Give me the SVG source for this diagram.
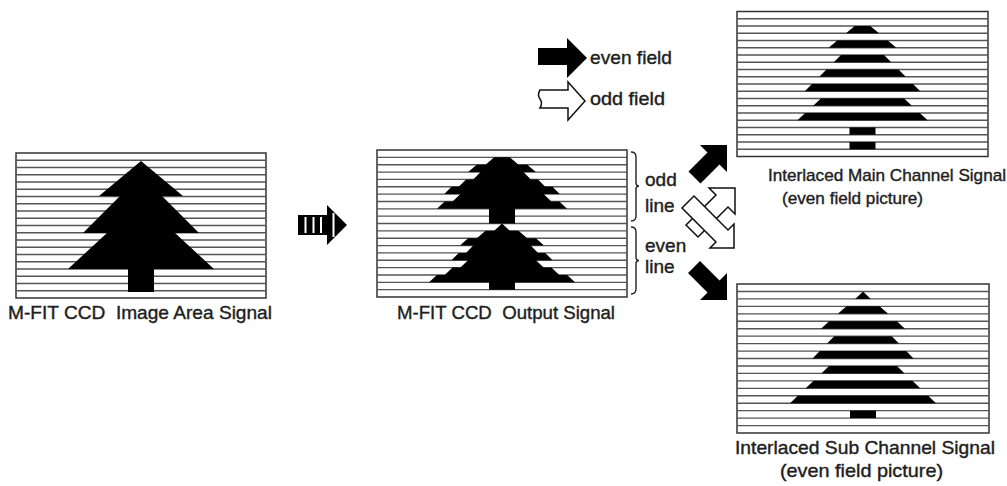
<svg xmlns="http://www.w3.org/2000/svg" width="1007" height="486" viewBox="0 0 1007 486">
  <defs>
    <style>
      .frame { fill: #ffffff; stroke: #333333; stroke-width: 1.5; }
      .scan { fill: none; stroke: #555555; stroke-width: 1.35; }
      .solid { fill: #000000; stroke: none; }
      .hollow { fill: #ffffff; stroke: #111111; stroke-width: 1.5; stroke-linejoin: miter; }
      .label { font-family: "Liberation Sans", Arial, Helvetica, sans-serif; font-size: 19px; fill: #1e1e1e; stroke: #1e1e1e; stroke-width: 0.4; white-space: pre; }
      .small { font-size: 17px; }
    </style>
  </defs>

  <!-- image area signal: full frame with the tree -->
  <g id="image-area">
    <rect class="frame" x="16" y="153" width="250" height="145"/>
    <path class="scan" d="M16 160.25H266M16 167.5H266M16 174.75H266M16 182H266M16 189.25H266M16 196.5H266M16 203.75H266M16 211H266M16 218.25H266M16 225.5H266M16 232.75H266M16 240H266M16 247.25H266M16 254.5H266M16 261.75H266M16 269H266M16 276.25H266M16 283.5H266M16 290.75H266"/>
    <polygon class="solid" points="141,161 183,196 162,196 199,233 175,233 214,269 154,269 154,292 128,292 128,269 68,269 107,233 83,233 120,196 99,196"/>
    <text class="label" x="8" y="319" textLength="264" lengthAdjust="spacingAndGlyphs" xml:space="preserve">M-FIT CCD  Image Area Signal</text>
  </g>

  <!-- output signal: odd lines packed above, even lines packed below -->
  <g id="output-signal">
    <rect class="frame" x="377" y="150" width="250" height="147"/>
    <path class="scan" d="M377 157.35H627M377 164.7H627M377 172.05H627M377 179.4H627M377 186.75H627M377 194.1H627M377 201.45H627M377 208.8H627M377 216.15H627M377 223.5H627M377 230.85H627M377 238.2H627M377 245.55H627M377 252.9H627M377 260.25H627M377 267.6H627M377 274.95H627M377 282.3H627M377 289.65H627"/>
    <polygon class="solid" points="494.2,157.35 509.8,157.35 518.5,164.7 527.2,164.7 535.9,172.05 523.5,172.05 530.75,179.4 538,179.4 545.25,186.75 552.5,186.75 559.75,194.1 543.6,194.1 551.4,201.45 559.3,201.45 567.1,208.8 515,208.8 515,223.5 489,223.5 489,208.8 436.9,208.8 444.7,201.45 452.6,201.45 460.4,194.1 444.25,194.1 451.5,186.75 458.75,186.75 466,179.4 473.25,179.4 480.5,172.05 468.1,172.05 476.8,164.7 485.5,164.7"/>
    <polygon class="solid" points="502,223.5 509.8,230.85 518.5,230.85 527.2,238.2 535.9,238.2 544,245.55 530.75,245.55 538,252.9 545.25,252.9 552.5,260.25 536,260.25 543.6,267.6 551.4,267.6 559.3,274.95 567.1,274.95 575,282.3 515,282.3 515,289.65 489,289.65 489,282.3 429,282.3 436.9,274.95 444.7,274.95 452.6,267.6 460.4,267.6 468,260.25 451.5,260.25 458.75,252.9 466,252.9 473.25,245.55 460,245.55 468.1,238.2 476.8,238.2 485.5,230.85 494.2,230.85"/>
    <text class="label" x="397" y="319" textLength="218" lengthAdjust="spacingAndGlyphs" xml:space="preserve">M-FIT CCD  Output Signal</text>
  </g>

  <!-- brackets marking the two halves of the output frame -->
  <g id="line-brackets">
    <path fill="none" stroke="#222" stroke-width="1.4" d="M631 152Q636 152 636 157L636 183Q636 186 639 186Q636 186 636 189L636 216Q636 221 631 221"/>
    <path fill="none" stroke="#222" stroke-width="1.4" d="M631 227Q636 227 636 232L636 257Q636 260.5 639 260.5Q636 260.5 636 264L636 289Q636 294 631 294"/>
    <text class="label" x="645" y="186">odd</text>
    <text class="label" x="645" y="212">line</text>
    <text class="label" x="645" y="252">even</text>
    <text class="label" x="645" y="273">line</text>
  </g>

  <!-- legend -->
  <g id="legend">
    <polygon class="solid" points="538,48 567,48 567,38 587,58 567,78 567,65 538,65"/>
    <text class="label" x="590" y="64" textLength="82" lengthAdjust="spacingAndGlyphs">even field</text>
    <path class="hollow" d="M540 90L568 90L568 82L585 101L568 120L568 108L540 108Q543 103 540 99Q537 95 540 90Z"/>
    <text class="label" x="590" y="105" textLength="75" lengthAdjust="spacingAndGlyphs">odd field</text>
  </g>

  <!-- main channel: even field picture -->
  <g id="main-channel">
    <rect class="frame" x="737" y="11.5" width="251" height="145"/>
    <path class="scan" d="M737 18.75H988M737 26H988M737 33.25H988M737 40.5H988M737 47.75H988M737 55H988M737 62.25H988M737 69.5H988M737 76.75H988M737 84H988M737 91.25H988M737 98.5H988M737 105.75H988M737 113H988M737 120.25H988M737 127.5H988M737 134.75H988M737 142H988M737 149.25H988"/>
    <polygon class="solid" points="854.7,26 870.3,26 879,33.25 846,33.25"/>
    <polygon class="solid" points="837.3,40.5 887.7,40.5 896.4,47.75 828.6,47.75"/>
    <polygon class="solid" points="841,55 884,55 891.25,62.25 833.75,62.25"/>
    <polygon class="solid" points="826.5,69.5 898.5,69.5 905.75,76.75 819.25,76.75"/>
    <polygon class="solid" points="812,84 913,84 920.25,91.25 804.75,91.25"/>
    <polygon class="solid" points="820.9,98.5 904.1,98.5 911.9,105.75 813.1,105.75"/>
    <polygon class="solid" points="805.2,113 919.8,113 927.6,120.25 797.4,120.25"/>
    <rect class="solid" x="849.5" y="127.5" width="26" height="7.25"/>
    <rect class="solid" x="849.5" y="142" width="26" height="7.25"/>
    <text class="label small" x="768" y="181" textLength="238" lengthAdjust="spacingAndGlyphs">Interlaced Main Channel Signal</text>
    <text class="label small" x="782" y="204" textLength="141" lengthAdjust="spacingAndGlyphs">(even field picture)</text>
  </g>

  <!-- sub channel: even field picture -->
  <g id="sub-channel">
    <rect class="frame" x="737" y="284" width="252" height="149"/>
    <path class="scan" d="M737 291.45H989M737 298.9H989M737 306.35H989M737 313.8H989M737 321.25H989M737 328.7H989M737 336.15H989M737 343.6H989M737 351.05H989M737 358.5H989M737 365.95H989M737 373.4H989M737 380.85H989M737 388.3H989M737 395.75H989M737 403.2H989M737 410.65H989M737 418.1H989M737 425.55H989"/>
    <polygon class="solid" points="863,291.45 870.8,298.9 855.2,298.9"/>
    <polygon class="solid" points="846.5,306.35 879.5,306.35 888.2,313.8 837.8,313.8"/>
    <polygon class="solid" points="829.1,321.25 896.9,321.25 905,328.7 821,328.7"/>
    <polygon class="solid" points="834.25,336.15 891.75,336.15 899,343.6 827,343.6"/>
    <polygon class="solid" points="819.75,351.05 906.25,351.05 913.5,358.5 812.5,358.5"/>
    <polygon class="solid" points="829,365.95 897,365.95 904.6,373.4 821.4,373.4"/>
    <polygon class="solid" points="813.6,380.85 912.4,380.85 920.3,388.3 805.7,388.3"/>
    <polygon class="solid" points="797.9,395.75 928.1,395.75 936,403.2 790,403.2"/>
    <rect class="solid" x="850" y="410.65" width="26" height="7.45"/>
    <text class="label" x="735" y="454" textLength="260" lengthAdjust="spacingAndGlyphs">Interlaced Sub Channel Signal</text>
    <text class="label" x="780" y="477" textLength="163" lengthAdjust="spacingAndGlyphs">(even field picture)</text>
  </g>

  <!-- connectors -->
  <g id="connectors">
    <!-- readout arrow between the frames -->
    <polygon class="solid" points="298,215 327,215 327,205 347,225 327,245 327,235 298,235"/>
    <path fill="none" stroke="#ffffff" stroke-width="2" d="M305.5 217V233M313.5 217V233M321 217V233M333.5 213V237"/>
    <!-- even field routes -->
    <polygon class="solid" points="727,145 727,172 719.5,164.5 700.5,183.5 688.5,171.5 707.5,152.5 700,145"/>
    <polygon class="solid" points="727,273 727,300 700,300 707.5,292.5 688,273 700,261 719.5,280.5"/>
    <!-- odd field routes (crossed) -->
    <polygon class="hollow" points="735,188 735,214 728,207 698,237 686,225 716,195 709,188"/>
    <polygon class="hollow" points="734,248 710,248 716,242 682,208 694,196 728,230 734,224"/>
  </g>
</svg>
